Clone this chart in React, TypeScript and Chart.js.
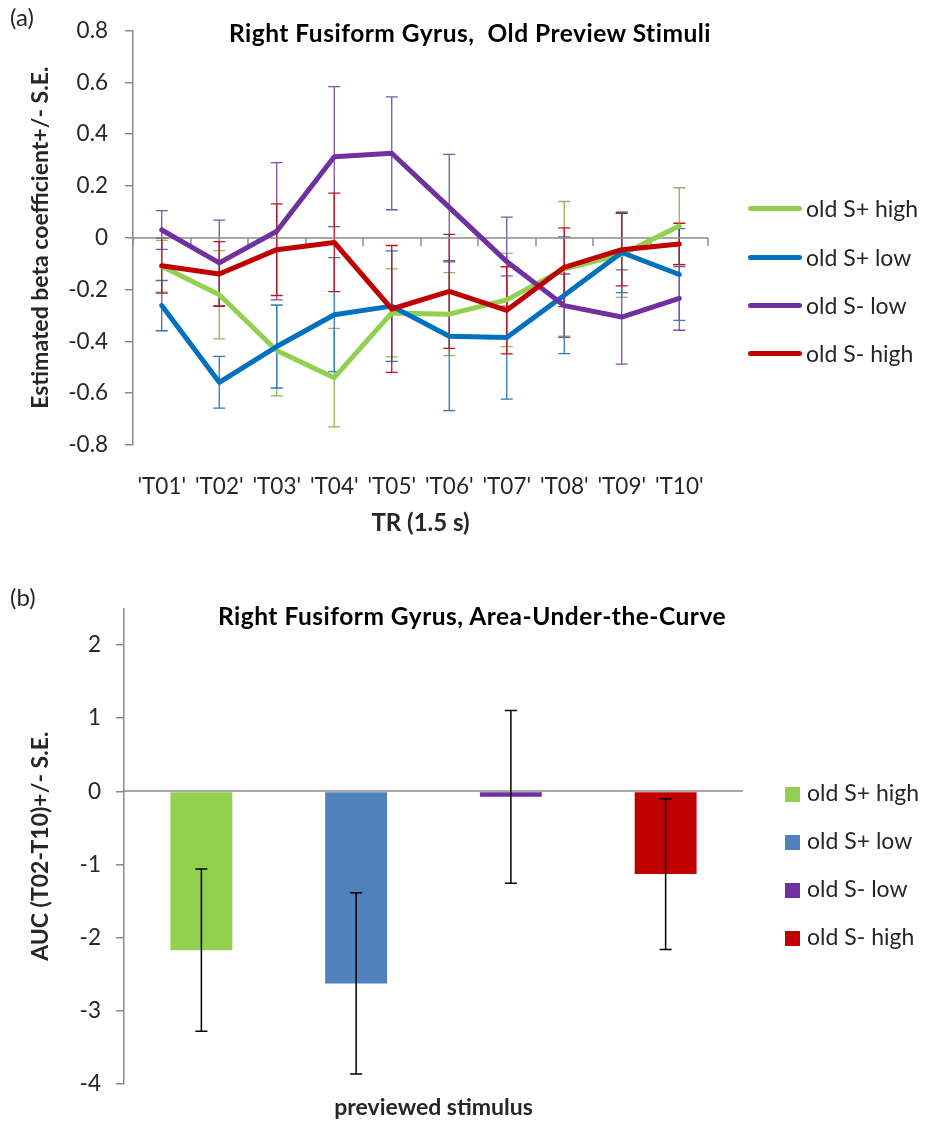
import React, { useEffect, useRef } from "react";
import { Chart, registerables } from "chart.js";

Chart.register(...registerables);

// ---- data: panel (a) time courses ----
const categories = ["'T01'", "'T02'", "'T03'", "'T04'", "'T05'", "'T06'", "'T07'", "'T08'", "'T09'", "'T10'"];
const seriesNames = ["old S+ high", "old S+ low", "old S- low", "old S- high"];

const sPlusHigh = [-0.11, -0.22, -0.435, -0.54, -0.29, -0.295, -0.24, -0.12, -0.065, 0.045];
const sPlusHighSE = [0.1, 0.17, 0.175, 0.19, 0.17, 0.16, 0.18, 0.26, 0.165, 0.148];
const sPlusLow = [-0.262, -0.558, -0.42, -0.297, -0.264, -0.38, -0.385, -0.222, -0.057, -0.142];
const sPlusLowSE = [0.097, 0.1, 0.16, 0.22, 0.213, 0.287, 0.238, 0.225, 0.155, 0.177];
const sMinusLow = [0.03, -0.097, 0.025, 0.313, 0.326, 0.117, -0.092, -0.262, -0.306, -0.234];
const sMinusLowSE = [0.075, 0.165, 0.265, 0.27, 0.218, 0.205, 0.172, 0.122, 0.182, 0.123];
const sMinusHigh = [-0.108, -0.14, -0.046, -0.018, -0.275, -0.207, -0.28, -0.114, -0.046, -0.024];
const sMinusHighSE = [0.106, 0.125, 0.177, 0.19, 0.245, 0.22, 0.168, 0.152, 0.14, 0.08];

const betaTickValues = [-0.8, -0.6, -0.4, -0.2, 0, 0.2, 0.4, 0.6, 0.8];

// ---- data: panel (b) area under the curve ----
const aucValues = [-2.17, -2.625, -0.075, -1.13];
const aucSE = [1.11, 1.24, 1.18, 1.03];
const aucTickValues = [-4, -3, -2, -1, 0, 1, 2];

// ---- styling ----
const lineColors = ["#92D050", "#0070C0", "#7030A0", "#C00000"];
const lineErrorColors = ["#8DB857", "#2F78B8", "#7A55A6", "#C0141C"];
const barColors = ["#92D050", "#4F81BD", "#7030A0", "#C00000"];
const FONT = "Lato, 'Open Sans', sans-serif";
const TEXT = "#262626";
const AXIS = "#8a8a8a";
const TICK_SIZE = 22.5;
const LABEL_SIZE = 23;

const lineSeries = [sPlusHigh, sPlusLow, sMinusLow, sMinusHigh];
const lineSeriesSE = [sPlusHighSE, sPlusLowSE, sMinusLowSE, sMinusHighSE];

// Vertical error bars with caps, read from dataset.errors / dataset.errorColor
const errorBarPlugin = {
  id: "errorBars",
  draw(chart: any, opts: any) {
    const { ctx } = chart;
    const yScale = chart.scales.y;
    ctx.save();
    ctx.lineWidth = opts.width;
    chart.data.datasets.forEach((ds: any, i: number) => {
      const meta = chart.getDatasetMeta(i);
      if (!ds.errors || meta.hidden) return;
      ctx.strokeStyle = ds.errorColor;
      meta.data.forEach((el: any, j: number) => {
        const v = ds.data[j];
        const e = ds.errors[j];
        const x = el.x;
        const yTop = yScale.getPixelForValue(v + e);
        const yBot = yScale.getPixelForValue(v - e);
        ctx.beginPath();
        ctx.moveTo(x, yTop);
        ctx.lineTo(x, yBot);
        ctx.moveTo(x - opts.cap, yTop);
        ctx.lineTo(x + opts.cap, yTop);
        ctx.moveTo(x - opts.cap, yBot);
        ctx.lineTo(x + opts.cap, yBot);
        ctx.stroke();
      });
    });
    ctx.restore();
  },
  beforeDatasetsDraw(chart: any, _a: any, opts: any) {
    if (opts.phase === "before") errorBarPlugin.draw(chart, opts);
  },
  afterDatasetsDraw(chart: any, _a: any, opts: any) {
    if (opts.phase !== "before") errorBarPlugin.draw(chart, opts);
  },
};

// Horizontal axis line at y = 0, optionally with tick marks between categories
const zeroLinePlugin = {
  id: "zeroLine",
  beforeDatasetsDraw(chart: any, _a: any, opts: any) {
    const { ctx, chartArea } = chart;
    const y = Math.round(chart.scales.y.getPixelForValue(0));
    ctx.save();
    ctx.strokeStyle = opts.color;
    ctx.lineWidth = opts.width;
    ctx.beginPath();
    ctx.moveTo(chartArea.left, y);
    ctx.lineTo(chartArea.right, y);
    if (opts.tickLength) {
      const xs = chart.scales.x;
      const n = chart.data.labels.length;
      for (let i = 0; i <= n; i++) {
        const x = Math.round(xs.getPixelForValue(i - 0.5));
        ctx.moveTo(x, y);
        ctx.lineTo(x, y + opts.tickLength);
      }
    }
    ctx.stroke();
    ctx.restore();
  },
};

function LineChartPanel() {
  const ref = useRef<HTMLCanvasElement>(null);
  useEffect(() => {
    const chart = new Chart(ref.current as HTMLCanvasElement, {
      type: "line",
      data: {
        labels: categories,
        datasets: lineSeries.map((values, i) => ({
          label: seriesNames[i],
          data: values,
          errors: lineSeriesSE[i],
          errorColor: lineErrorColors[i],
          borderColor: lineColors[i],
          backgroundColor: lineColors[i],
          borderWidth: 5,
          pointRadius: 0,
          tension: 0,
          borderJoinStyle: "round",
          borderCapStyle: "round",
          order: lineSeries.length - i,
        })) as any,
      },
      options: {
        responsive: false,
        animation: false,
        layout: { padding: { top: 24, right: 222, bottom: 15, left: 0 } },
        plugins: {
          legend: { display: false },
          tooltip: { enabled: false },
          errorBars: { phase: "before", width: 1.3, cap: 6 },
          zeroLine: { color: AXIS, width: 1.5, tickLength: 8 },
        } as any,
        scales: {
          x: {
            offset: true,
            grid: { display: false },
            border: { display: false },
            ticks: { color: TEXT, font: { family: FONT, size: TICK_SIZE }, padding: 20, maxRotation: 0, autoSkip: false },
            title: {
              display: true,
              text: "TR (1.5 s)",
              color: TEXT,
              font: { family: FONT, size: LABEL_SIZE + 1, weight: "bold" },
              padding: { top: 0, bottom: 7 },
            },
            afterFit: (scale: any) => {
              scale.height = 100;
            },
          },
          y: {
            min: -0.8,
            max: 0.8,
            afterBuildTicks: (scale: any) => {
              scale.ticks = betaTickValues.map((v) => ({ value: v }));
            },
            grid: { drawOnChartArea: false, drawTicks: true, tickLength: 8, color: AXIS, lineWidth: 1.5 },
            border: { color: AXIS, width: 1.5 },
            ticks: {
              color: TEXT,
              font: { family: FONT, size: TICK_SIZE },
              padding: 17,
              callback: (v: any) => (Math.abs(v) < 1e-9 ? "0" : Number(v).toFixed(1)),
            },
            title: {
              display: true,
              text: "Estimated beta coefficient+/- S.E.",
              color: TEXT,
              font: { family: FONT, size: LABEL_SIZE, weight: "bold" },
              padding: { top: 27, bottom: 0 },
            },
            afterFit: (scale: any) => {
              scale.width = 133;
            },
          },
        },
      },
      plugins: [errorBarPlugin, zeroLinePlugin],
    });
    return () => chart.destroy();
  }, []);
  return <canvas ref={ref} width={930} height={560} style={{ display: "block" }} />;
}

function BarChartPanel() {
  const ref = useRef<HTMLCanvasElement>(null);
  useEffect(() => {
    const chart = new Chart(ref.current as HTMLCanvasElement, {
      type: "bar",
      data: {
        labels: [""],
        datasets: aucValues.map((v, i) => ({
          label: seriesNames[i],
          data: [v],
          errors: [aucSE[i]],
          errorColor: "#000000",
          backgroundColor: barColors[i],
          borderWidth: 0,
          categoryPercentage: 1,
          barPercentage: 0.4,
        })) as any,
      },
      options: {
        responsive: false,
        animation: false,
        layout: { padding: { top: 28, right: 187, bottom: 0, left: 0 } },
        plugins: {
          legend: { display: false },
          tooltip: { enabled: false },
          errorBars: { phase: "after", width: 1.5, cap: 6 },
          zeroLine: { color: AXIS, width: 1.5, tickLength: 0 },
        } as any,
        scales: {
          x: {
            grid: { display: false },
            border: { display: false },
            ticks: { display: false },
            title: {
              display: true,
              text: "previewed stimulus",
              color: TEXT,
              font: { family: FONT, size: LABEL_SIZE, weight: "bold" },
              padding: { top: 0, bottom: 1 },
            },
            afterFit: (scale: any) => {
              scale.height = 38;
            },
          },
          y: {
            min: -4,
            max: 2.5,
            afterBuildTicks: (scale: any) => {
              scale.ticks = aucTickValues.map((v) => ({ value: v }));
            },
            grid: { drawOnChartArea: false, drawTicks: true, tickLength: 8, color: AXIS, lineWidth: 1.5 },
            border: { color: AXIS, width: 1.5 },
            ticks: { color: TEXT, font: { family: FONT, size: TICK_SIZE }, padding: 15 },
            title: {
              display: true,
              text: "AUC (T02-T10)+/- S.E.",
              color: TEXT,
              font: { family: FONT, size: LABEL_SIZE, weight: "bold" },
              padding: { top: 27, bottom: 0 },
            },
            afterFit: (scale: any) => {
              scale.width = 124;
            },
          },
        },
      },
      plugins: [zeroLinePlugin, errorBarPlugin],
    });
    return () => chart.destroy();
  }, []);
  return <canvas ref={ref} width={930} height={542} style={{ display: "block" }} />;
}

const abs = (left: number, top: number, extra: React.CSSProperties = {}): React.CSSProperties => ({
  position: "absolute",
  left,
  top,
  ...extra,
});

const legendText: React.CSSProperties = {
  fontFamily: FONT,
  fontSize: LABEL_SIZE,
  color: TEXT,
  lineHeight: "27.6px",
  whiteSpace: "pre",
};

const titleText: React.CSSProperties = {
  textAlign: "center",
  fontFamily: FONT,
  fontWeight: "bold",
  fontSize: 24.5,
  lineHeight: "29.4px",
  letterSpacing: "0.5px",
  color: "#000",
  whiteSpace: "pre",
};

export default function App() {
  const lineLegendRows = [208, 257, 305, 353];
  const barLegendRows = [794, 842, 890, 938];
  return (
    <div style={abs(0, 0, { width: 930, height: 1122, background: "#fff", overflow: "hidden" })}>
      <div style={abs(0, 0)}>
        <LineChartPanel />
      </div>
      <div style={abs(0, 580)}>
        <BarChartPanel />
      </div>

      <div style={abs(10, 3, { ...legendText, fontSize: 24 })}>(a)</div>
      <div style={abs(10, 583, { ...legendText, fontSize: 24 })}>(b)</div>

      <div style={abs(0, 17.5, { ...titleText, width: 940 })}>{"Right Fusiform Gyrus,  Old Preview Stimuli"}</div>
      <div style={abs(0, 601, { ...titleText, width: 944 })}>{"Right Fusiform Gyrus, Area-Under-the-Curve"}</div>

      {seriesNames.map((name, i) => (
        <div key={"l" + i}>
          <div
            style={abs(748, lineLegendRows[i] - 2.5, {
              width: 54,
              height: 5,
              borderRadius: 2.5,
              background: lineColors[i],
            })}
          />
          <div style={abs(806, lineLegendRows[i] - 13.5, legendText)}>{name}</div>
        </div>
      ))}

      {seriesNames.map((name, i) => (
        <div key={"b" + i}>
          <div
            style={abs(785, barLegendRows[i] - 7.5, {
              width: 15,
              height: 15,
              background: barColors[i],
            })}
          />
          <div style={abs(807, barLegendRows[i] - 15, legendText)}>{name}</div>
        </div>
      ))}
    </div>
  );
}
